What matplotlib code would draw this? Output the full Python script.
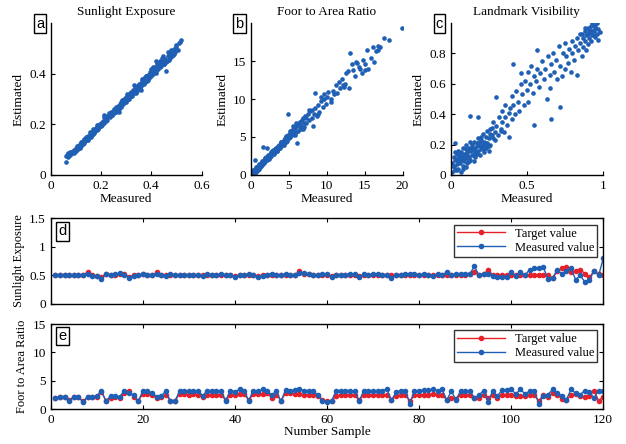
import matplotlib
matplotlib.use("Agg")
import matplotlib.pyplot as plt

plt.rcParams['font.family'] = ['Liberation Serif', 'DejaVu Serif']
plt.rcParams['font.size'] = 9

blue = '#1f5fb4'
red = '#e8202a'

# (a) Sunlight Exposure scatter
sun_meas = [0.060, 0.062, 0.065, 0.068, 0.070, 0.072, 0.075, 0.078, 0.080, 0.082, 0.085, 0.088, 0.090, 0.092,
            0.095, 0.098, 0.100, 0.102, 0.105, 0.108, 0.110, 0.112, 0.115, 0.118, 0.120, 0.122, 0.125, 0.128,
            0.130, 0.132, 0.135, 0.138, 0.140, 0.142, 0.145, 0.148, 0.150, 0.152, 0.155, 0.158, 0.160, 0.163,
            0.165, 0.168, 0.170, 0.173, 0.175, 0.178, 0.180, 0.183, 0.185, 0.188, 0.190, 0.193, 0.195, 0.198,
            0.200, 0.205, 0.208, 0.210, 0.215, 0.218, 0.220, 0.225, 0.228, 0.230, 0.235, 0.238, 0.240, 0.245,
            0.248, 0.250, 0.255, 0.258, 0.260, 0.265, 0.268, 0.270, 0.275, 0.278, 0.280, 0.285, 0.288, 0.290,
            0.295, 0.298, 0.300, 0.305, 0.308, 0.310, 0.315, 0.318, 0.320, 0.325, 0.328, 0.330, 0.335, 0.340,
            0.342, 0.345, 0.350, 0.355, 0.358, 0.360, 0.365, 0.370, 0.372, 0.375, 0.380, 0.385, 0.388, 0.390,
            0.395, 0.400, 0.402, 0.405, 0.410, 0.412, 0.415, 0.418, 0.420, 0.425, 0.428, 0.430, 0.435, 0.438,
            0.440, 0.445, 0.448, 0.450, 0.455, 0.460, 0.462, 0.465, 0.470, 0.472, 0.475, 0.478, 0.480, 0.485,
            0.488, 0.490, 0.495, 0.500, 0.505, 0.510, 0.515, 0.520, 0.330, 0.360, 0.270, 0.210, 0.120, 0.150,
            0.100, 0.170, 0.140, 0.190, 0.110, 0.130,
            0.078, 0.092, 0.106, 0.118, 0.133, 0.146, 0.157, 0.171, 0.186, 0.202, 0.222, 0.242, 0.263, 0.283,
            0.302, 0.322, 0.345, 0.362, 0.382, 0.398, 0.418, 0.436, 0.452, 0.468, 0.482, 0.497, 0.068, 0.115,
            0.162, 0.212, 0.252, 0.292, 0.338, 0.378, 0.422, 0.458, 0.492, 0.408, 0.442, 0.478]
sun_est = [0.050, 0.075, 0.080, 0.072, 0.082, 0.078, 0.085, 0.080, 0.090, 0.085, 0.088, 0.095, 0.092, 0.100,
           0.098, 0.093, 0.105, 0.100, 0.108, 0.104, 0.112, 0.118, 0.110, 0.120, 0.116, 0.125, 0.130, 0.122,
           0.135, 0.128, 0.140, 0.133, 0.145, 0.138, 0.150, 0.143, 0.155, 0.148, 0.160, 0.153, 0.165, 0.158,
           0.170, 0.163, 0.175, 0.168, 0.182, 0.172, 0.185, 0.178, 0.190, 0.184, 0.196, 0.188, 0.200, 0.193,
           0.205, 0.198, 0.212, 0.204, 0.220, 0.212, 0.226, 0.218, 0.232, 0.244, 0.230, 0.240, 0.248, 0.238,
           0.252, 0.245, 0.262, 0.250, 0.268, 0.258, 0.272, 0.262, 0.280, 0.270, 0.288, 0.278, 0.292, 0.283,
           0.300, 0.290, 0.308, 0.298, 0.315, 0.302, 0.322, 0.312, 0.328, 0.318, 0.335, 0.322, 0.342, 0.332,
           0.350, 0.338, 0.358, 0.345, 0.365, 0.352, 0.372, 0.360, 0.382, 0.368, 0.390, 0.375, 0.396, 0.382,
           0.405, 0.392, 0.412, 0.398, 0.420, 0.405, 0.425, 0.449, 0.410, 0.432, 0.418, 0.440, 0.425, 0.445,
           0.430, 0.452, 0.470, 0.440, 0.460, 0.410, 0.450, 0.468, 0.455, 0.475, 0.462, 0.480, 0.468, 0.490,
           0.475, 0.498, 0.485, 0.505, 0.495, 0.522, 0.525, 0.532, 0.355, 0.335, 0.250, 0.238, 0.130, 0.140,
           0.095, 0.180, 0.148, 0.182, 0.115, 0.125,
           0.092, 0.088, 0.115, 0.112, 0.142, 0.138, 0.168, 0.164, 0.198, 0.195, 0.232, 0.236, 0.252, 0.296,
           0.318, 0.310, 0.332, 0.378, 0.372, 0.418, 0.402, 0.452, 0.438, 0.486, 0.470, 0.512, 0.085, 0.105,
           0.150, 0.228, 0.262, 0.302, 0.325, 0.392, 0.438, 0.445, 0.478, 0.428, 0.462, 0.492]

# (b) Foor to Area Ratio scatter
far_meas = [0.05, 0.1, 0.15, 0.2, 0.25, 0.3, 0.3, 0.35, 0.4, 0.4, 0.45, 0.5, 0.5, 0.5, 0.55, 0.6, 0.6, 0.65,
            0.7, 0.7, 0.75, 0.8, 0.8, 0.85, 0.9, 0.9, 0.95, 1.0, 1.0, 1.1, 1.1, 1.2, 1.2, 1.3, 1.3, 1.4, 1.4,
            1.5, 1.5, 1.6, 1.6, 1.7, 1.7, 1.8, 1.8, 1.9, 2.0, 2.0, 2.1, 2.1, 2.2, 2.3, 2.3, 2.4, 2.5, 2.5, 2.6,
            2.7, 2.7, 2.8, 2.9, 3.0, 3.0, 3.1, 3.2, 3.3, 3.4, 3.5, 3.5, 3.6, 3.7, 3.8, 3.9, 4.0, 4.1, 4.2, 4.3,
            4.4, 4.5, 4.6, 4.7, 4.8, 4.9, 4.9, 5.0, 5.1, 5.2, 5.3, 5.4, 5.5, 5.6, 5.7, 5.8, 5.9, 6.0, 6.0, 6.1,
            6.2, 6.3, 6.4, 6.5, 6.6, 6.7, 6.8, 6.9, 7.0, 7.1, 7.2, 7.3, 7.5, 7.6, 7.8, 8.0, 8.1, 8.2, 8.3, 8.5,
            8.5, 8.7, 8.9, 9.0, 9.2, 9.3, 9.5, 9.7, 9.9, 10.0, 10.2, 10.5, 10.8, 11.0, 11.2, 11.3, 11.6, 11.8,
            12.0, 12.2, 12.4, 12.6, 12.8, 13.0, 13.1, 13.3, 13.5, 13.7, 14.0, 14.2, 14.6, 14.8, 15.0, 15.3,
            15.5, 15.8, 16.2, 16.5, 16.7, 16.8, 17.0, 17.6, 18.2, 19.9, 0.2, 0.6, 1.0, 1.5, 2.2, 2.8, 3.3, 4.0,
            0.3, 0.7, 1.2, 1.8, 2.4, 2.9, 3.4, 3.9, 4.4, 5.2, 5.8, 6.4, 7.0, 7.7, 8.8, 9.6, 10.6, 12.3, 13.8,
            14.4, 15.1, 16.1, 0.9, 1.4, 2.6, 3.6, 4.6, 5.6, 6.6]
far_est = [0.1, 0.3, 0.05, 0.4, 0.2, 0.5, 0.1, 0.3, 0.6, 0.2, 0.45, 0.7, 2.0, 0.3, 0.5, 0.8, 0.4, 0.6, 0.9,
           0.5, 0.8, 1.1, 0.6, 0.9, 1.2, 0.7, 1.0, 1.3, 0.8, 1.2, 1.5, 1.1, 1.4, 1.6, 1.2, 1.5, 1.8, 1.4, 1.7,
           3.7, 1.8, 1.6, 2.0, 1.9, 2.2, 1.8, 2.1, 2.4, 2.0, 3.6, 2.3, 2.6, 2.2, 2.5, 2.8, 2.3, 2.7, 3.0, 2.5,
           2.9, 3.2, 2.8, 3.1, 3.4, 3.0, 3.5, 3.2, 3.8, 3.4, 3.6, 4.0, 3.6, 4.2, 3.8, 4.4, 4.0, 4.6, 4.2, 4.8,
           4.4, 5.0, 4.5, 8.0, 5.2, 4.8, 5.5, 5.0, 5.8, 5.2, 5.6, 6.0, 5.4, 6.2, 5.6, 6.5, 6.8, 4.2, 5.8, 6.6,
           6.2, 7.0, 6.4, 7.2, 6.0, 7.5, 6.8, 7.8, 6.9, 7.5, 8.0, 7.2, 8.4, 7.5, 8.6, 6.5, 8.0, 10.8, 8.8, 7.8,
           9.2, 8.3, 9.8, 10.3, 9.0, 10.0, 9.4, 10.2, 10.9, 10.0, 11.0, 10.6, 11.8, 10.8, 12.3, 11.4, 12.6,
           11.8, 12.0, 13.4, 13.7, 11.4, 16.0, 14.6, 13.8, 13.0, 14.8, 14.2, 13.4, 15.2, 13.8, 16.5, 14.0, 15.4,
           14.9, 16.3, 17.0, 16.4, 16.8, 18.1, 17.8, 19.3, 0.35, 0.75, 1.25, 1.6, 2.5, 3.1, 3.5, 4.3,
           0.6, 1.0, 1.0, 2.2, 2.1, 3.3, 3.1, 4.3, 4.0, 5.8, 5.2, 7.0, 6.3, 8.5, 8.0, 10.6, 9.6, 11.6, 14.9,
           13.9, 14.6, 16.9, 1.1, 1.3, 2.9, 3.4, 5.1, 6.4, 6.0]

# (c) Landmark Visibility scatter
vis_meas = [0.01, 0.01, 0.02, 0.02, 0.03, 0.03, 0.03, 0.04, 0.04, 0.05, 0.05, 0.05, 0.06, 0.06, 0.07, 0.07,
            0.07, 0.08, 0.08, 0.08, 0.09, 0.09, 0.10, 0.10, 0.10, 0.11, 0.11, 0.12, 0.12, 0.13, 0.13, 0.13,
            0.14, 0.14, 0.15, 0.15, 0.15, 0.16, 0.16, 0.17, 0.17, 0.18, 0.18, 0.18, 0.19, 0.19, 0.20, 0.20,
            0.21, 0.21, 0.22, 0.22, 0.23, 0.23, 0.24, 0.24, 0.25, 0.25, 0.26, 0.26, 0.27, 0.28, 0.28, 0.29,
            0.30, 0.30, 0.31, 0.32, 0.33, 0.34, 0.34, 0.35, 0.36, 0.36, 0.37, 0.38, 0.38, 0.39, 0.40, 0.40,
            0.41, 0.41, 0.42, 0.43, 0.44, 0.45, 0.46, 0.46, 0.47, 0.48, 0.49, 0.50, 0.51, 0.51, 0.52, 0.53,
            0.54, 0.55, 0.55, 0.56, 0.57, 0.57, 0.58, 0.59, 0.60, 0.61, 0.62, 0.63, 0.64, 0.65, 0.65, 0.66,
            0.66, 0.67, 0.68, 0.69, 0.70, 0.71, 0.72, 0.72, 0.73, 0.74, 0.75, 0.75, 0.76, 0.77, 0.78, 0.79,
            0.80, 0.80, 0.81, 0.82, 0.83, 0.83, 0.84, 0.85, 0.85, 0.86, 0.87, 0.87, 0.88, 0.88, 0.89, 0.89,
            0.90, 0.90, 0.91, 0.91, 0.92, 0.92, 0.93, 0.93, 0.94, 0.94, 0.95, 0.95, 0.96, 0.96, 0.97, 0.97,
            0.98, 0.02, 0.04, 0.06, 0.09, 0.11, 0.12, 0.14, 0.16, 0.17, 0.19, 0.21, 0.23, 0.25, 0.27, 0.03,
            0.08, 0.13, 0.18, 0.22,
            0.05, 0.07, 0.10, 0.12, 0.14, 0.16, 0.18, 0.20, 0.24, 0.26, 0.29, 0.33, 0.90, 0.92, 0.94, 0.95,
            0.86, 0.88, 0.91, 0.93]
vis_est = [0.02, 0.08, 0.05, 0.12, 0.03, 0.21, 0.10, 0.07, 0.14, 0.04, 0.11, 0.16, 0.08, 0.13, 0.02, 0.10,
           0.15, 0.06, 0.12, 0.18, 0.09, 0.14, 0.05, 0.11, 0.20, 0.08, 0.15, 0.12, 0.18, 0.10, 0.16, 0.39,
           0.13, 0.20, 0.09, 0.15, 0.22, 0.12, 0.18, 0.14, 0.21, 0.16, 0.24, 0.38, 0.13, 0.19, 0.17, 0.23,
           0.20, 0.27, 0.15, 0.22, 0.18, 0.25, 0.21, 0.29, 0.16, 0.24, 0.27, 0.20, 0.31, 0.24, 0.35, 0.28,
           0.51, 0.32, 0.26, 0.38, 0.30, 0.42, 0.35, 0.28, 0.38, 0.46, 0.33, 0.41, 0.25, 0.44, 0.37, 0.52,
           0.73, 0.46, 0.40, 0.55, 0.48, 0.42, 0.60, 0.67, 0.53, 0.46, 0.62, 0.56, 0.68, 0.48, 0.60, 0.72,
           0.54, 0.33, 0.65, 0.62, 0.82, 0.70, 0.58, 0.67, 0.75, 0.63, 0.70, 0.50, 0.78, 0.66, 0.57, 0.37,
           0.73, 0.80, 0.68, 0.76, 0.63, 0.85, 0.45, 0.72, 0.65, 0.80, 0.87, 0.70, 0.78, 0.74, 0.83, 0.68,
           0.80, 0.88, 0.76, 0.85, 0.66, 0.90, 0.82, 0.93, 0.87, 0.78, 0.90, 0.84, 0.95, 0.88, 0.82, 0.92,
           0.97, 0.86, 0.90, 0.94, 0.98, 0.88, 1.00, 0.92, 0.95, 0.99, 0.91, 0.97, 1.00, 0.93, 0.96, 0.89,
           0.94, 0.06, 0.03, 0.11, 0.12, 0.13, 0.09, 0.17, 0.14, 0.19, 0.22, 0.18, 0.21, 0.19, 0.26, 0.15,
           0.04, 0.22, 0.20, 0.17,
           0.09, 0.12, 0.17, 0.09, 0.18, 0.15, 0.21, 0.25, 0.19, 0.30, 0.23, 0.29, 0.93, 0.95, 0.92, 0.98,
           0.93, 0.97, 0.96, 0.95]

# (d) Sunlight Exposure per sample
sample = list(range(1, 121))
sun_target = [0.51, 0.51, 0.50, 0.50, 0.51, 0.50, 0.51, 0.55, 0.50, 0.49,
              0.47, 0.52, 0.51, 0.51, 0.52, 0.52, 0.47, 0.50, 0.51, 0.52,
              0.51, 0.50, 0.55, 0.51, 0.50, 0.51, 0.51, 0.51, 0.50, 0.51,
              0.51, 0.50, 0.50, 0.51, 0.50, 0.51, 0.51, 0.50, 0.50, 0.49,
              0.50, 0.51, 0.51, 0.50, 0.49, 0.50, 0.51, 0.50, 0.51, 0.50,
              0.51, 0.50, 0.51, 0.57, 0.52, 0.52, 0.51, 0.51, 0.50, 0.51,
              0.49, 0.50, 0.51, 0.51, 0.51, 0.51, 0.49, 0.50, 0.51, 0.51,
              0.51, 0.50, 0.50, 0.50, 0.51, 0.51, 0.51, 0.51, 0.50, 0.50,
              0.51, 0.50, 0.51, 0.50, 0.50, 0.51, 0.51, 0.50, 0.51, 0.51,
              0.52, 0.55, 0.51, 0.52, 0.59, 0.51, 0.50, 0.50, 0.50, 0.51,
              0.50, 0.51, 0.50, 0.50, 0.50, 0.50, 0.50, 0.50, 0.45, 0.57,
              0.62, 0.64, 0.56, 0.58, 0.60, 0.53, 0.47, 0.57, 0.52, 0.50]
sun_measured = [0.51, 0.51, 0.51, 0.50, 0.51, 0.51, 0.50, 0.53, 0.49, 0.49,
                0.43, 0.52, 0.51, 0.52, 0.54, 0.51, 0.46, 0.49, 0.50, 0.52,
                0.51, 0.51, 0.52, 0.51, 0.49, 0.52, 0.51, 0.51, 0.51, 0.50,
                0.51, 0.51, 0.49, 0.52, 0.51, 0.51, 0.52, 0.50, 0.51, 0.47,
                0.50, 0.51, 0.52, 0.51, 0.47, 0.49, 0.51, 0.53, 0.50, 0.50,
                0.52, 0.51, 0.51, 0.54, 0.54, 0.52, 0.51, 0.51, 0.52, 0.53,
                0.47, 0.51, 0.51, 0.51, 0.52, 0.52, 0.47, 0.52, 0.51, 0.52,
                0.52, 0.51, 0.51, 0.45, 0.51, 0.51, 0.52, 0.53, 0.53, 0.50,
                0.52, 0.51, 0.49, 0.52, 0.50, 0.56, 0.50, 0.53, 0.53, 0.53,
                0.52, 0.66, 0.50, 0.52, 0.53, 0.49, 0.47, 0.47, 0.47, 0.56,
                0.49, 0.56, 0.50, 0.60, 0.62, 0.62, 0.64, 0.43, 0.45, 0.60,
                0.52, 0.58, 0.63, 0.42, 0.50, 0.38, 0.42, 0.58, 0.50, 0.80]

# (e) Foor to Area Ratio per sample
far_target = [1.9, 2.1, 2.1, 1.6, 2.1, 2.1, 1.4, 2.1, 2.1, 2.1,
              3.1, 1.5, 2.0, 2.1, 2.0, 2.8, 3.3, 2.2, 1.5, 2.7,
              2.7, 2.5, 2.0, 2.2, 2.6, 1.5, 1.5, 2.7, 2.7, 2.6,
              2.7, 2.6, 2.2, 2.6, 2.6, 2.6, 2.6, 1.6, 2.6, 2.6,
              2.7, 2.7, 1.6, 2.7, 2.7, 2.7, 2.8, 2.0, 2.6, 1.5,
              2.8, 2.8, 2.7, 2.7, 2.5, 2.5, 2.5, 2.4, 1.6, 1.5,
              1.5, 2.4, 2.5, 2.5, 2.5, 2.5, 1.6, 2.5, 2.5, 2.5,
              2.5, 2.5, 2.6, 1.7, 2.3, 2.5, 2.5, 1.5, 2.5, 2.6,
              2.5, 2.6, 2.7, 2.6, 2.5, 1.7, 2.0, 1.8, 2.5, 2.5,
              2.5, 2.0, 2.0, 2.6, 2.0, 2.6, 2.0, 2.6, 2.6, 2.5,
              2.4, 2.4, 2.3, 2.5, 2.5, 1.5, 2.5, 2.1, 2.8, 2.6,
              1.8, 1.6, 2.5, 2.7, 2.3, 2.2, 2.4, 3.3, 1.5, 2.2]
far_measured = [2.0, 2.2, 2.2, 1.5, 2.2, 2.2, 1.3, 2.2, 2.2, 2.3,
                3.3, 1.4, 2.4, 2.3, 2.2, 3.3, 2.8, 2.5, 1.4, 3.2,
                3.2, 2.9, 2.2, 2.4, 3.2, 1.4, 1.4, 3.3, 3.3, 3.2,
                3.2, 3.3, 2.4, 3.3, 3.3, 3.3, 3.2, 1.5, 3.3, 3.1,
                3.5, 3.3, 1.5, 3.3, 3.2, 3.5, 3.2, 2.5, 3.2, 1.4,
                3.4, 3.3, 3.4, 3.5, 3.3, 3.3, 3.3, 2.5, 1.5, 1.2,
                1.5, 3.3, 3.3, 3.3, 3.3, 3.2, 1.5, 3.3, 3.3, 3.3,
                3.3, 3.3, 3.5, 1.6, 3.0, 3.3, 3.3, 1.0, 3.3, 3.3,
                3.4, 3.4, 3.5, 3.3, 3.5, 1.6, 3.2, 1.7, 3.2, 3.2,
                3.2, 2.0, 2.5, 3.3, 1.3, 3.3, 2.3, 3.4, 3.4, 3.5,
                2.7, 3.5, 2.7, 3.2, 3.2, 1.0, 2.4, 2.6, 3.5, 2.8,
                2.4, 1.7, 3.5, 2.8, 2.6, 3.3, 3.1, 2.0, 3.3, 3.2]

fig = plt.figure(figsize=(6.26, 4.44), dpi=100)


def panel_letter(x, y, s):
    fig.text(x, y, s, ha='center', va='center', fontsize=10.5, family='Liberation Sans',
             bbox=dict(boxstyle='square,pad=0.15', fc='white', ec='black', lw=1.0))


scatters = [
    ([0.081, 0.606, 0.241, 0.342], sun_meas, sun_est, 'Sunlight Exposure', (0, 0.6), (0, 0.6),
     [0, 0.2, 0.4, 0.6], [0, 0.2, 0.4], ['0', '0.2', '0.4', '0.6'], ['0', '0.2', '0.4'], 'a', 0.064),
    ([0.401, 0.606, 0.242, 0.342], far_meas, far_est, 'Foor to Area Ratio', (0, 20), (0, 20),
     [0, 5, 10, 15, 20], [0, 5, 10, 15], None, None, 'b', 0.3826),
    ([0.720, 0.606, 0.243, 0.342], vis_meas, vis_est, 'Landmark Visibility', (0, 1), (0, 1),
     [0, 0.5, 1], [0, 0.2, 0.4, 0.6, 0.8], ['0', '0.5', '1'], ['0', '0.2', '0.4', '0.6', '0.8'], 'c', 0.702),
]

for pos, xs, ys, title, xl, yl, xt, yt, xtl, ytl, letter, lx in scatters:
    ax = fig.add_axes(pos)
    ax.scatter(xs, ys, s=11, color=blue, linewidths=0)
    ax.set_xlim(xl)
    ax.set_ylim(yl)
    ax.set_xticks(xt)
    ax.set_yticks(yt)
    if xtl:
        ax.set_xticklabels(xtl)
    if ytl:
        ax.set_yticklabels(ytl)
    ax.spines['top'].set_visible(False)
    ax.spines['right'].set_visible(False)
    for sp in ax.spines.values():
        sp.set_linewidth(1.0)
    ax.tick_params(direction='in', length=3, labelsize=9.5)
    ax.set_title(title, fontsize=9.5, pad=6)
    ax.set_xlabel('Measured', fontsize=9.5, labelpad=1)
    ax.set_ylabel('Estimated', fontsize=9.5, labelpad=3)
    panel_letter(lx, 0.947, letter)

lines = [
    ([0.081, 0.316, 0.8827, 0.192], sun_target, sun_measured, (0, 1.5), [0, 0.5, 1, 1.5],
     ['0', '0.5', '1', '1.5'], 'Sunlight Exposure', 'd', 0.479),
    ([0.081, 0.0782, 0.8827, 0.192], far_target, far_measured, (0, 15), [0, 5, 10, 15],
     ['0', '5', '10', '15'], 'Foor to Area Ratio', 'e', 0.2437),
]

for pos, tgt, meas, yl, yt, ytl, ylab, letter, ly in lines:
    ax = fig.add_axes(pos)
    ax.plot(sample, tgt, '-o', color=red, lw=1.0, ms=3, label='Target value')
    ax.plot(sample, meas, '-o', color=blue, lw=1.0, ms=3, label='Measured value')
    ax.set_xlim(0, 120)
    ax.set_ylim(yl)
    ax.set_xticks([0, 20, 40, 60, 80, 100, 120])
    ax.set_yticks(yt)
    ax.set_yticklabels(ytl)
    for sp in ax.spines.values():
        sp.set_linewidth(1.0)
    ax.tick_params(direction='in', length=3, top=True, right=True, labelsize=9.5)
    ax.set_ylabel(ylab, fontsize=9, labelpad=3)
    if letter == 'd':
        ax.set_xticklabels([])
    else:
        ax.set_xlabel('Number Sample', fontsize=9.5, labelpad=0)
    leg = ax.legend(loc='upper right', fontsize=9, frameon=True, fancybox=False,
                    borderpad=0.25, labelspacing=0.15, handlelength=3.8, borderaxespad=0.5)
    leg.get_frame().set_edgecolor('black')
    leg.get_frame().set_linewidth(1.0)
    panel_letter(0.0998, ly, letter)

fig.savefig('out.png', dpi=100)
